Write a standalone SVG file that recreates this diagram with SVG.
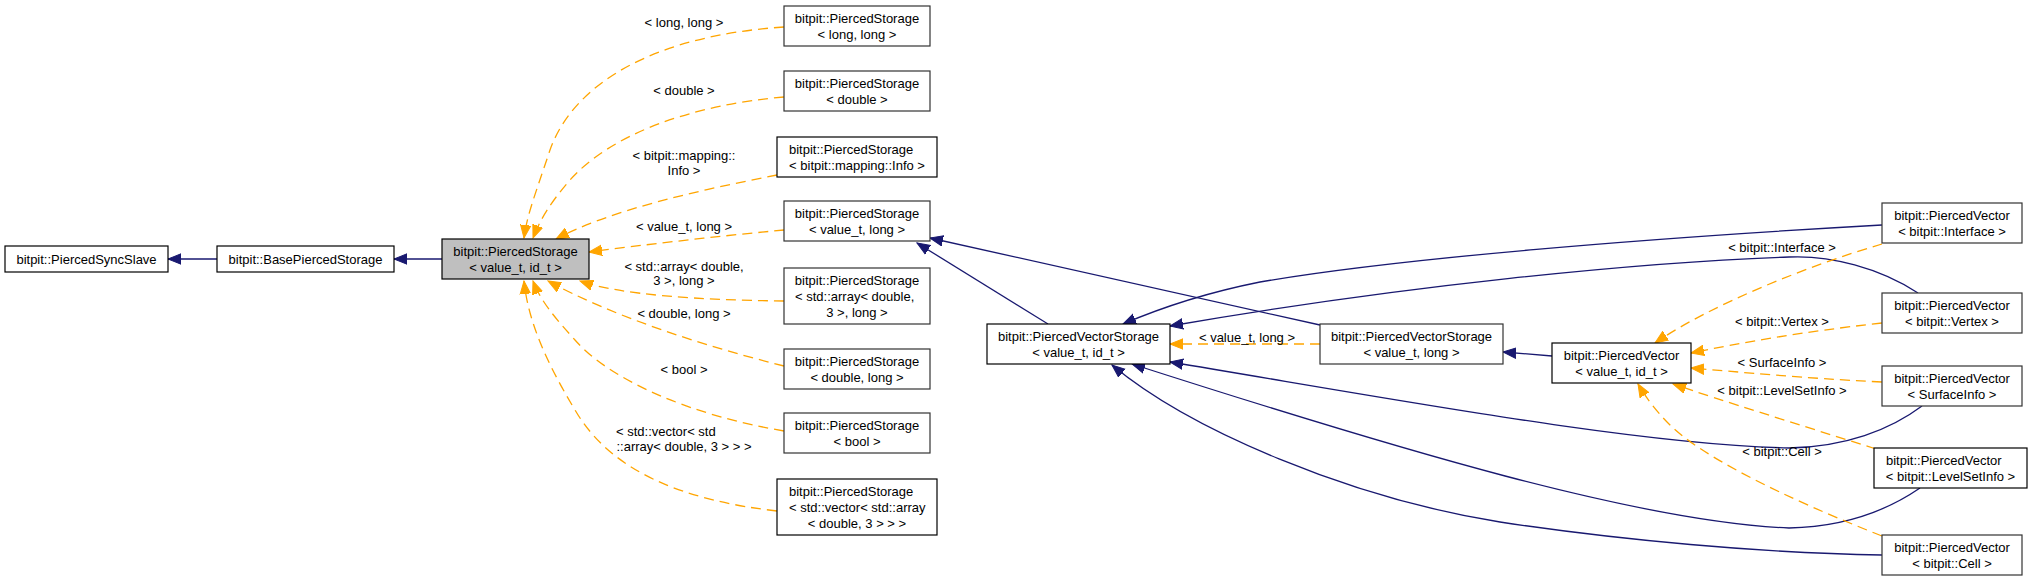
<svg xmlns="http://www.w3.org/2000/svg" width="2033" height="581" viewBox="0 0 2033 581">
<style>
text{font-family:"Liberation Sans",Arial,Helvetica,sans-serif;font-size:13px;fill:#000}
.n rect{fill:#fff;stroke:#000;stroke-width:1.2}
.n.i rect{stroke:#333}
.n.g rect{fill:#bfbfbf}
.c{text-anchor:middle}
.s{text-anchor:start}
.b{fill:none;stroke:#191970;stroke-width:1.3}
.o{fill:none;stroke:#ffa500;stroke-width:1.3;stroke-dasharray:10,6}
.lb{text-anchor:middle}
</style>
<defs>
<marker id="ab" markerWidth="14" markerHeight="12" refX="13" refY="6" orient="auto" markerUnits="userSpaceOnUse" viewBox="0 0 14 12"><path d="M0,0.8 L13,6 L0,11.2 z" fill="#191970" stroke="#191970" stroke-width="1"/></marker>
<marker id="ao" markerWidth="14" markerHeight="12" refX="13" refY="6" orient="auto" markerUnits="userSpaceOnUse" viewBox="0 0 14 12"><path d="M0,0.8 L13,6 L0,11.2 z" fill="#ffa500" stroke="#ffa500" stroke-width="1"/></marker>
</defs>
<rect width="2033" height="581" fill="#fff"/>
<g id="connectors">
<path class="b" marker-end="url(#ab)" d="M217,259 L168,259"/>
<path class="b" marker-end="url(#ab)" d="M442,259 L394,259"/>
<path class="o" marker-end="url(#ao)" d="M784,27 C660,35 575,80 550,150 C535,195 527,215 524,238"/>
<path class="o" marker-end="url(#ao)" d="M784,97 C690,105 610,135 570,180 C550,203 540,220 533,238"/>
<path class="o" marker-end="url(#ao)" d="M777,175 C700,190 610,210 556,239"/>
<path class="o" marker-end="url(#ao)" d="M784,230 C720,236 650,244 589,252"/>
<path class="o" marker-end="url(#ao)" d="M784,301 C700,300 620,295 580,281"/>
<path class="o" marker-end="url(#ao)" d="M784,366 C700,345 610,315 548,281"/>
<path class="o" marker-end="url(#ao)" d="M784,431 C690,415 610,380 575,340 C555,318 540,300 533,281"/>
<path class="o" marker-end="url(#ao)" d="M777,511 C680,500 610,470 575,410 C545,360 528,320 524,281"/>
<path class="b" marker-end="url(#ab)" d="M1048,324 L917,243"/>
<path class="b" marker-end="url(#ab)" d="M1320,325 L930,238"/>
<path class="o" marker-end="url(#ao)" d="M1320,344 L1170,344"/>
<path class="b" marker-end="url(#ab)" d="M1552,356 L1503,352"/>
<path class="b" marker-end="url(#ab)" d="M1882,225 C1650,238 1400,258 1260,282 C1210,292 1165,306 1123,324"/>
<path class="b" marker-end="url(#ab)" d="M1918,293 C1880,268 1830,255 1789,257 C1640,262 1400,286 1170,326"/>
<path class="b" marker-end="url(#ab)" d="M1922,406 C1890,430 1845,447 1789,448 C1640,445 1400,400 1170,362"/>
<path class="b" marker-end="url(#ab)" d="M1920,488 C1885,512 1840,527 1789,528 C1640,522 1400,450 1132,364"/>
<path class="b" marker-end="url(#ab)" d="M1882,555 C1760,553 1620,540 1500,522 C1350,498 1190,430 1112,365"/>
<path class="o" marker-end="url(#ao)" d="M1882,244 C1810,265 1710,305 1655,343"/>
<path class="o" marker-end="url(#ao)" d="M1882,323 C1800,332 1740,343 1691,353"/>
<path class="o" marker-end="url(#ao)" d="M1882,382 C1800,378 1740,372 1691,368"/>
<path class="o" marker-end="url(#ao)" d="M1876,449 C1800,425 1720,400 1673,384"/>
<path class="o" marker-end="url(#ao)" d="M1882,536 C1780,496 1700,455 1670,425 C1655,410 1645,396 1638,384"/>
<text class="lb" x="684" y="27">&lt; long, long &gt;</text>
<text class="lb" x="684" y="94.5">&lt; double &gt;</text>
<text class="lb" x="684" y="159.5">&lt; bitpit::mapping::</text>
<text class="lb" x="684" y="174.5">Info &gt;</text>
<text class="lb" x="684" y="230.5">&lt; value_t, long &gt;</text>
<text class="lb" x="684" y="270.5">&lt; std::array&lt; double,</text>
<text class="lb" x="684" y="284.5">3 &gt;, long &gt;</text>
<text class="lb" x="684" y="317.5">&lt; double, long &gt;</text>
<text class="lb" x="684" y="373.5">&lt; bool &gt;</text>
<text class="s" x="616" y="435.5">&lt; std::vector&lt; std</text>
<text class="lb" x="684" y="450.5">::array&lt; double, 3 &gt; &gt; &gt;</text>
<text class="lb" x="1247" y="341.5">&lt; value_t, long &gt;</text>
<text class="lb" x="1782" y="251.5">&lt; bitpit::Interface &gt;</text>
<text class="lb" x="1782" y="325.5">&lt; bitpit::Vertex &gt;</text>
<text class="lb" x="1782" y="366.5">&lt; SurfaceInfo &gt;</text>
<text class="lb" x="1782" y="394.5">&lt; bitpit::LevelSetInfo &gt;</text>
<text class="lb" x="1782" y="455.5">&lt; bitpit::Cell &gt;</text>
</g>
<g id="syncslave" class="n"><rect x="5" y="246" width="163" height="26"/><text class="c" x="86.5" y="263.5">bitpit::PiercedSyncSlave</text></g>
<g id="basepiercedstorage" class="n"><rect x="217" y="246" width="177" height="26"/><text class="c" x="305.5" y="263.5">bitpit::BasePiercedStorage</text></g>
<g id="piercedstorage" class="n g"><rect x="442" y="239" width="147" height="40"/><text class="c" x="515.5" y="255.5">bitpit::PiercedStorage</text><text class="c" x="515.5" y="271.5">&lt; value_t, id_t &gt;</text></g>
<g id="ps_longlong" class="n i"><rect x="784" y="6" width="146" height="40"/><text class="c" x="857" y="22.5">bitpit::PiercedStorage</text><text class="c" x="857" y="38.5">&lt; long, long &gt;</text></g>
<g id="ps_double" class="n i"><rect x="784" y="71" width="146" height="40"/><text class="c" x="857" y="87.5">bitpit::PiercedStorage</text><text class="c" x="857" y="103.5">&lt; double &gt;</text></g>
<g id="ps_info" class="n"><rect x="777" y="137" width="160" height="40"/><text class="s" x="789" y="153.5">bitpit::PiercedStorage</text><text class="c" x="857" y="169.5">&lt; bitpit::mapping::Info &gt;</text></g>
<g id="ps_valuelong" class="n i"><rect x="784" y="201" width="146" height="40"/><text class="c" x="857" y="217.5">bitpit::PiercedStorage</text><text class="c" x="857" y="233.5">&lt; value_t, long &gt;</text></g>
<g id="ps_array" class="n i"><rect x="784" y="268" width="146" height="56"/><text class="c" x="857" y="284.5">bitpit::PiercedStorage</text><text class="s" x="795" y="300.5">&lt; std::array&lt; double,</text><text class="c" x="857" y="316.5">3 &gt;, long &gt;</text></g>
<g id="ps_doublelong" class="n i"><rect x="784" y="349" width="146" height="40"/><text class="c" x="857" y="365.5">bitpit::PiercedStorage</text><text class="c" x="857" y="381.5">&lt; double, long &gt;</text></g>
<g id="ps_bool" class="n i"><rect x="784" y="413" width="146" height="40"/><text class="c" x="857" y="429.5">bitpit::PiercedStorage</text><text class="c" x="857" y="445.5">&lt; bool &gt;</text></g>
<g id="ps_vector" class="n"><rect x="777" y="479" width="160" height="56"/><text class="s" x="789" y="495.5">bitpit::PiercedStorage</text><text class="s" x="789" y="511.5">&lt; std::vector&lt; std::array</text><text class="c" x="857" y="527.5">&lt; double, 3 &gt; &gt; &gt;</text></g>
<g id="pvs_id" class="n"><rect x="987" y="324" width="183" height="40"/><text class="c" x="1078.5" y="340.5">bitpit::PiercedVectorStorage</text><text class="c" x="1078.5" y="356.5">&lt; value_t, id_t &gt;</text></g>
<g id="pvs_long" class="n i"><rect x="1320" y="324" width="183" height="40"/><text class="c" x="1411.5" y="340.5">bitpit::PiercedVectorStorage</text><text class="c" x="1411.5" y="356.5">&lt; value_t, long &gt;</text></g>
<g id="pv_id" class="n"><rect x="1552" y="343" width="139" height="40"/><text class="c" x="1621.5" y="359.5">bitpit::PiercedVector</text><text class="c" x="1621.5" y="375.5">&lt; value_t, id_t &gt;</text></g>
<g id="pv_interface" class="n i"><rect x="1882" y="203" width="140" height="40"/><text class="c" x="1952" y="219.5">bitpit::PiercedVector</text><text class="c" x="1952" y="235.5">&lt; bitpit::Interface &gt;</text></g>
<g id="pv_vertex" class="n i"><rect x="1882" y="293" width="140" height="40"/><text class="c" x="1952" y="309.5">bitpit::PiercedVector</text><text class="c" x="1952" y="325.5">&lt; bitpit::Vertex &gt;</text></g>
<g id="pv_surfaceinfo" class="n i"><rect x="1882" y="366" width="140" height="40"/><text class="c" x="1952" y="382.5">bitpit::PiercedVector</text><text class="c" x="1952" y="398.5">&lt; SurfaceInfo &gt;</text></g>
<g id="pv_levelsetinfo" class="n"><rect x="1874" y="448" width="153" height="40"/><text class="s" x="1886" y="464.5">bitpit::PiercedVector</text><text class="c" x="1950.5" y="480.5">&lt; bitpit::LevelSetInfo &gt;</text></g>
<g id="pv_cell" class="n i"><rect x="1882" y="535" width="140" height="40"/><text class="c" x="1952" y="551.5">bitpit::PiercedVector</text><text class="c" x="1952" y="567.5">&lt; bitpit::Cell &gt;</text></g>
</svg>
